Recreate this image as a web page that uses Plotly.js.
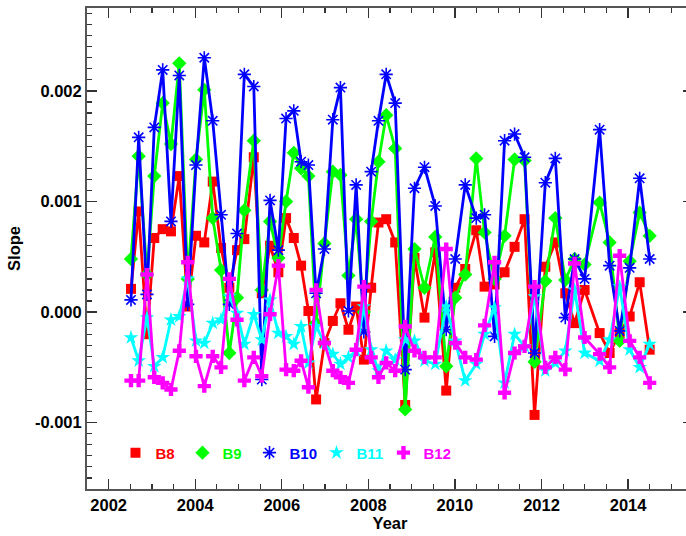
<!DOCTYPE html>
<html><head><meta charset="utf-8">
<script src="https://cdn.plot.ly/plotly-3.0.1.min.js"></script>
<style>html,body{margin:0;padding:0;overflow:hidden;background:#fff;width:686px;height:536px}</style>
</head><body><div id="chart"></div>
<script>
const years = [2002.516,2002.694,2002.886,2003.054,2003.249,2003.440,2003.632,2003.827,2004.018,2004.210,
2004.405,2004.597,2004.788,2004.966,2005.135,2005.353,2005.538,2005.729,2005.921,2006.099,
2006.277,2006.446,2006.615,2006.793,2006.985,2007.179,2007.355,2007.540,2007.718,2007.896,
2008.065,2008.234,2008.412,2008.620,2008.851,2009.066,2009.297,2009.545,2009.799,2010.007,
2010.238,2010.493,2010.685,2010.916,2011.147,2011.378,2011.609,2011.840,2012.088,2012.319,
2012.550,2012.765,2012.996,2013.343,2013.574,2013.806,2014.037,2014.268,2014.499];

const B8 = [0.00021,0.00091,-0.00020,0.00067,0.00075,0.00073,0.00123,0.00005,0.00069,0.00063,
0.00118,0.00058,0.00022,0.00056,0.00066,0.00140,0.00017,0.00060,0.00036,0.00085,
0.00067,0.00042,0.00001,-0.00079,-0.00028,-0.00008,0.00008,-0.00016,0.00005,-0.00043,
0.00022,0.00081,0.00084,0.00063,-0.00084,0.00049,-0.00005,0.00054,-0.00071,0.00022,
0.00039,0.00074,0.00023,0.00025,0.00036,0.00059,0.00084,-0.00093,0.00041,0.00063,
0.00017,-0.00010,0.00020,-0.00019,-0.00037,-0.00019,-0.00004,0.00027,-0.00034];

const B9 = [0.00048,0.00141,0.00034,0.00123,0.00189,0.00152,0.00225,0.00030,0.00138,0.00201,
0.00085,0.00038,-0.00037,0.00013,0.00092,0.00155,0.00020,0.00082,0.00049,0.00100,
0.00144,0.00130,0.00123,-0.00010,0.00062,0.00127,0.00124,0.00033,0.00084,0.00000,
0.00082,0.00136,0.00178,0.00148,-0.00088,0.00057,0.00022,0.00068,-0.00049,0.00013,
0.00034,0.00139,0.00072,0.00030,0.00069,0.00138,0.00137,-0.00045,0.00028,0.00085,
0.00029,0.00048,0.00043,0.00099,0.00063,-0.00026,0.00046,0.00090,0.00069];

const B10 = [0.00011,0.00158,0.00016,0.00167,0.00219,0.00082,0.00214,0.00007,0.00133,0.00230,
0.00173,0.00088,0.00007,0.00071,0.00215,0.00204,-0.00061,0.00101,0.00056,0.00175,
0.00182,0.00136,0.00133,0.00017,0.00057,0.00174,0.00203,0.00001,0.00115,-0.00018,
0.00127,0.00173,0.00215,0.00189,-0.00052,0.00112,0.00131,0.00096,-0.00016,0.00048,
0.00115,0.00085,0.00088,-0.00022,0.00155,0.00161,0.00140,-0.00037,0.00117,0.00139,
-0.00005,0.00048,0.00030,0.00165,0.00042,-0.00017,0.00040,0.00121,0.00048];

const B11 = [-0.00023,-0.00044,-0.00005,-0.00049,-0.00041,-0.00007,-0.00004,0.00030,-0.00026,-0.00028,
-0.00010,-0.00007,0.00014,-0.00001,-0.00029,-0.00002,-0.00025,0.00011,-0.00019,-0.00022,
-0.00029,-0.00013,-0.00046,-0.00013,-0.00028,-0.00038,-0.00047,-0.00041,-0.00035,0.00005,
-0.00034,-0.00053,-0.00035,-0.00043,-0.00025,-0.00026,-0.00044,-0.00047,0.00005,-0.00026,
-0.00062,-0.00047,-0.00020,0.00004,-0.00064,-0.00020,-0.00031,0.00014,-0.00053,-0.00046,
-0.00035,0.00020,-0.00037,-0.00044,-0.00025,0.00023,-0.00034,-0.00050,-0.00029];

const B12 = [-0.00062,-0.00062,0.00034,-0.00059,-0.00064,-0.00070,-0.00035,0.00045,-0.00040,-0.00067,
-0.00040,-0.00050,0.00030,-0.00007,-0.00062,-0.00041,-0.00058,-0.00002,0.00042,-0.00052,
-0.00053,-0.00044,-0.00068,0.00020,-0.00028,-0.00053,-0.00059,-0.00064,-0.00034,0.00023,
-0.00041,-0.00059,-0.00046,-0.00053,-0.00013,-0.00035,-0.00041,-0.00041,0.00057,-0.00028,
-0.00041,-0.00043,-0.00012,0.00045,-0.00073,-0.00037,-0.00031,0.00023,-0.00050,-0.00041,
-0.00052,0.00044,-0.00023,-0.00038,-0.00050,0.00051,-0.00026,-0.00041,-0.00064];

const seriesNames = ['B8','B9','B10','B11','B12'];
const seriesData = [B8,B9,B10,B11,B12];
const colors = ['#ff0000','#00ff00','#0000ff','#00ffff','#ff00ff'];
const symbols = ['square','diamond','asterisk-open','star','cross'];
const sizes = [10,11,11,11,11];

const traces = [];
seriesData.forEach((d,i)=>{
  traces.push({x: years, y: d, type:'scatter', mode:'lines+markers', showlegend:false,
    line:{color:colors[i], width:2.8},
    marker:{symbol:symbols[i], color:colors[i], size:sizes[i], line:{color:colors[i], width: i===2?1.6:0}}});
});
seriesData.forEach((d,i)=>{
  traces.push({x:[null], y:[null], type:'scatter', mode:'markers',
    name:'<span style="color:'+colors[i]+'">'+seriesNames[i]+'</span>',
    marker:{symbol:symbols[i], color:colors[i], size:sizes[i], line:{color:colors[i], width: i===2?1.6:0}}});
});

const axFont = {family:'Liberation Sans, Arial, sans-serif', size:16.5, color:'#000', weight:'bold'};
const layout = {
  width: 693, height: 536,
  margin:{l:87, r:0, t:8, b:47},
  paper_bgcolor:'#fff', plot_bgcolor:'#fff',
  showlegend:true,
  legend:{orientation:'h', x:0.047, xanchor:'left', y:0.075, yanchor:'middle',
    bgcolor:'rgba(0,0,0,0)', font:{family:'Liberation Sans, Arial, sans-serif', size:15, weight:'bold'},
    entrywidth:22, entrywidthmode:'pixels', itemwidth:30},
  xaxis:{range:[2001.5,2015.5], tickvals:[2002,2004,2006,2008,2010,2012,2014],
    ticktext:['2002','2004','2006','2008','2010','2012','2014'],
    ticks:'inside', ticklen:10, tickwidth:1.2, tickcolor:'#333',
    minor:{dtick:0.5, tick0:2002, ticks:'inside', ticklen:5, tickwidth:1.2, tickcolor:'#333'},
    showline:true, linecolor:'#555', linewidth:2, mirror:'ticks', showgrid:false, zeroline:false,
    tickfont:axFont, title:{text:'Year', font:axFont, standoff:0}},
  yaxis:{range:[-0.0016,0.00275], tickvals:[-0.001,0,0.001,0.002],
    ticktext:['-0.001','0.000','0.001','0.002'],
    ticks:'inside', ticklen:10, tickwidth:1.2, tickcolor:'#333',
    minor:{dtick:0.0001, tick0:0, ticks:'inside', ticklen:5, tickwidth:1.2, tickcolor:'#333'},
    showline:true, linecolor:'#555', linewidth:2, mirror:'ticks', showgrid:false, zeroline:false,
    tickfont:axFont, title:{text:'Slope', font:axFont, standoff:10}}
};
Plotly.newPlot('chart', traces, layout, {staticPlot:true, displayModeBar:false});
</script></body></html>
